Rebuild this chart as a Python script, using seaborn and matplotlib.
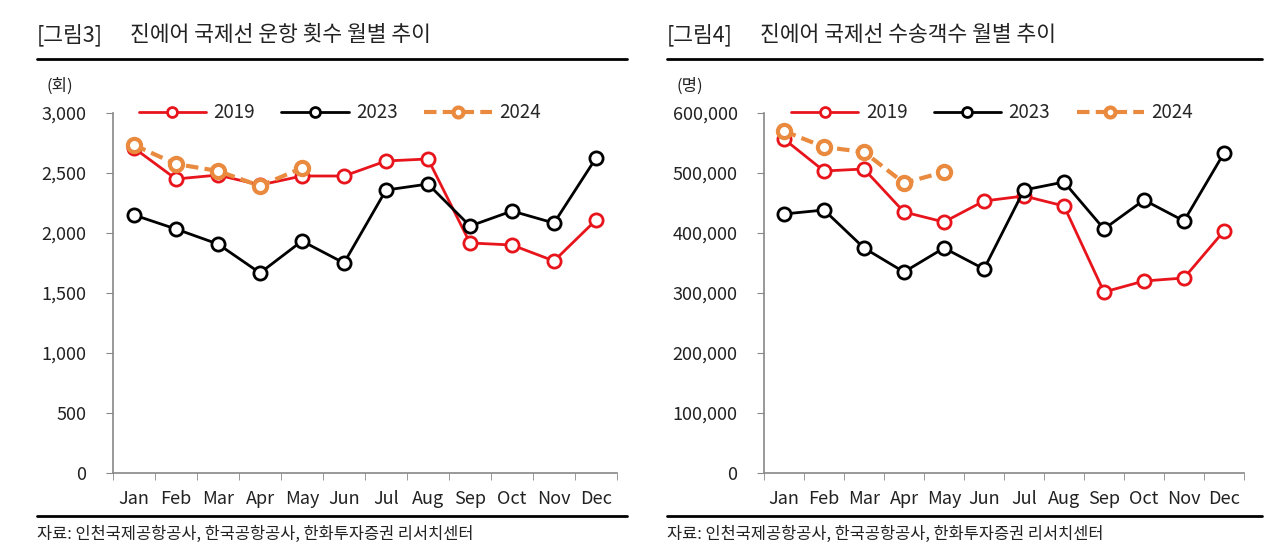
import matplotlib
matplotlib.use("Agg")
import matplotlib.pyplot as plt
import seaborn as sns
import pandas as pd
from matplotlib.ticker import FuncFormatter, FixedLocator

sns.set_style("white")
plt.rcParams['font.family'] = ['Noto Sans CJK KR', 'DejaVu Sans']

months = ['Jan', 'Feb', 'Mar', 'Apr', 'May', 'Jun', 'Jul', 'Aug', 'Sep', 'Oct', 'Nov', 'Dec']

# 운항 횟수 (회)
flights_2019 = [2708, 2450, 2483, 2400, 2475, 2475, 2600, 2617, 1917, 1900, 1767, 2108]
flights_2023 = [2150, 2033, 1908, 1667, 1933, 1750, 2358, 2408, 2058, 2183, 2083, 2625]
flights_2024 = [2733, 2575, 2517, 2392, 2542]

# 수송객수 (명)
pax_2019 = [556667, 503333, 506667, 435000, 418333, 453333, 461667, 445000, 301667, 320000, 325000, 403333]
pax_2023 = [431667, 438333, 375000, 335000, 375000, 340000, 471667, 485000, 406667, 455000, 420000, 533333]
pax_2024 = [570000, 543333, 535000, 483333, 501667]

c2019 = '#E8141C'
c2023 = '#000000'
c2024 = '#E98A3E'

W, H = 1286, 553
fig = plt.figure(figsize=(W / 100, H / 100), dpi=100)


def px(x0, y0, w, h):
    return [x0 / W, 1 - (y0 + h) / H, w / W, h / H]


def draw_panel(ax, s19, s23, s24, ymax, step, unit, fig_no, title, hx0, hx1, lx):
    x = list(range(12))
    sns.lineplot(x=x, y=s19, ax=ax, color=c2019, lw=2, marker='o', markersize=9.5,
                 markerfacecolor='white', markeredgecolor=c2019, markeredgewidth=2, label='2019')
    sns.lineplot(x=x, y=s23, ax=ax, color=c2023, lw=2, marker='o', markersize=9.5,
                 markerfacecolor='white', markeredgecolor=c2023, markeredgewidth=2, label='2023')
    sns.lineplot(x=x[:len(s24)], y=s24, ax=ax, color=c2024, lw=3, linestyle=(0, (3, 1.5)), marker='o',
                 markersize=9.5, markerfacecolor='white', markeredgecolor=c2024, markeredgewidth=3,
                 label='2024')
    ax.set_xlim(-0.5, 11.5)
    ax.set_ylim(0, ymax)
    ax.set_yticks(range(0, ymax + 1, step))
    ax.yaxis.set_major_formatter(FuncFormatter(lambda v, p: f'{int(v):,}'))
    ax.set_xticks(x)
    ax.set_xticklabels(months)
    ax.xaxis.set_minor_locator(FixedLocator([i - 0.5 for i in range(13)]))
    ax.tick_params(axis='x', which='major', length=0, pad=12, labelsize=13, colors='#222222')
    ax.tick_params(axis='x', which='minor', length=5, direction='out', color='#888888', bottom=True)
    ax.tick_params(axis='y', length=5, direction='out', color='#888888', left=True, pad=14,
                   labelsize=13, colors='#222222')
    for side in ['top', 'right']:
        ax.spines[side].set_visible(False)
    for side in ['left', 'bottom']:
        ax.spines[side].set_color('#888888')
        ax.spines[side].set_linewidth(1.2)
    ax.set_xlabel('')
    ax.set_ylabel('')
    ax.legend(loc='center', bbox_to_anchor=(lx, 1.0), ncol=3, frameon=False, fontsize=13.5,
              handlelength=3.6, columnspacing=1.4, handletextpad=0.4, markerscale=0.75)

    # header / footer
    fig.text(hx0 / W, 1 - 35 / H, fig_no, fontsize=15.5, va='center', ha='left', color='#222222')
    fig.text((hx0 + 93) / W, 1 - 35 / H, title, fontsize=15.5, va='center', ha='left', color='#222222')
    fig.add_artist(plt.Line2D([hx0 / W, hx1 / W], [1 - 59 / H, 1 - 59 / H], color='black', lw=2))
    fig.add_artist(plt.Line2D([hx0 / W, hx1 / W], [1 - 516 / H, 1 - 516 / H], color='black', lw=2))
    fig.text(hx0 / W, 1 - 534 / H, '자료: 인천국제공항공사, 한국공항공사, 한화투자증권 리서치센터',
             fontsize=11.8, va='center', ha='left', color='#222222')
    fig.text((hx0 + 10) / W, 1 - 86 / H, unit, fontsize=12, va='center', ha='left', color='#222222')


ax1 = fig.add_axes(px(113, 113, 504, 360))
draw_panel(ax1, flights_2019, flights_2023, flights_2024, 3000, 500, '(회)',
           '[그림3]', '진에어 국제선 운항 횟수 월별 추이', 37, 627, 0.45)

ax2 = fig.add_axes(px(764, 113, 480, 360))
draw_panel(ax2, pax_2019, pax_2023, pax_2024, 600000, 100000, '(명)',
           '[그림4]', '진에어 국제선 수송객수 월별 추이', 667, 1262, 0.475)

fig.savefig('out.png', dpi=100)
